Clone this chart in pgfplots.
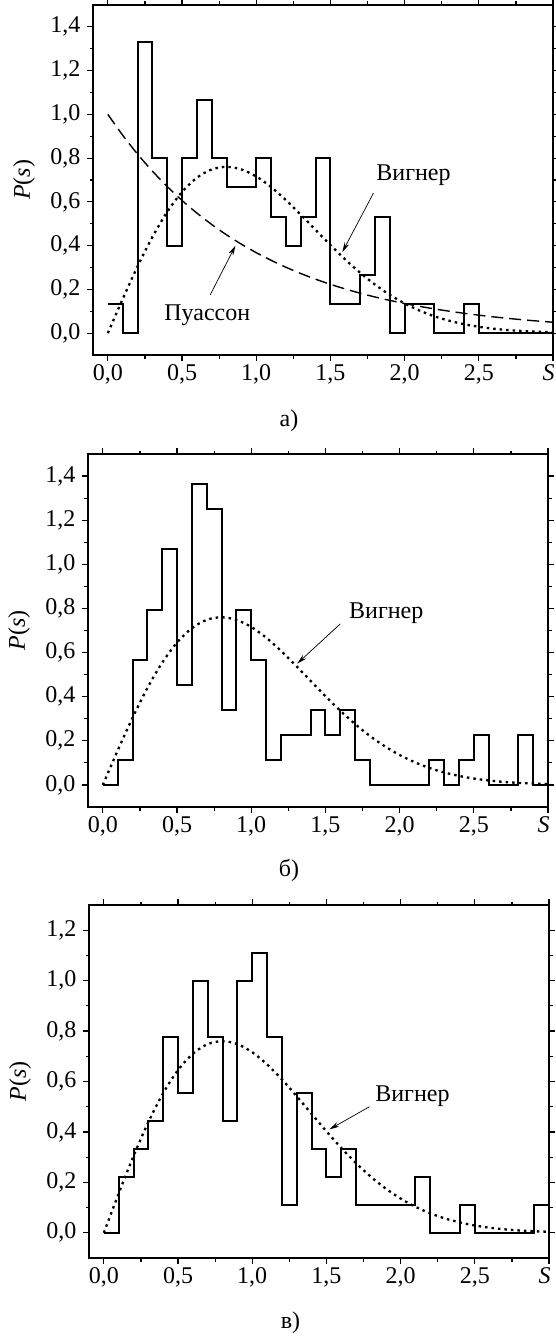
\documentclass[border=0pt]{standalone}
\usepackage{fontspec}
\setmainfont{Liberation Serif}
\usepackage{pgfplots}
\usepackage{pgfplotstable}
\pgfplotsset{compat=1.18}
\usetikzlibrary{arrows.meta}

% Wigner surmise and Poisson curves, values read at step 0.1
\pgfplotstableread{
s    w       p
0.0  0.0000  1.0000
0.1  0.1559  0.9048
0.2  0.3044  0.8187
0.3  0.4391  0.7408
0.4  0.5541  0.6703
0.5  0.6454  0.6065
0.6  0.7104  0.5488
0.7  0.7483  0.4966
0.8  0.7602  0.4493
0.9  0.7483  0.4066
1.0  0.7162  0.3679
1.1  0.6680  0.3329
1.2  0.6083  0.3012
1.3  0.5415  0.2725
1.4  0.4718  0.2466
1.5  0.4025  0.2231
1.6  0.3366  0.2019
1.7  0.2760  0.1827
1.8  0.2220  0.1653
1.9  0.1752  0.1496
2.0  0.1358  0.1353
2.1  0.1033  0.1225
2.2  0.0772  0.1108
2.3  0.0567  0.1003
2.4  0.0409  0.0907
2.5  0.0290  0.0821
2.6  0.0202  0.0743
2.7  0.0138  0.0672
2.8  0.0093  0.0608
2.9  0.0062  0.0550
3.0  0.0040  0.0498
}\curves

\tikzset{arr/.style={-{Stealth[length=10pt,width=5pt]}, line width=0.7pt}}

\pgfplotsset{
  panel/.style={
    scale only axis,
    width=460pt,
    xmin=-0.1, xmax=3.0, ymin=-0.1,
    axis line style={line width=1.2pt},
    every tick/.style={line width=1.2pt, black},
    tick align=outside,
    major tick length=6pt,
    minor tick length=3.5pt,
    xtick={0,0.5,1,1.5,2,2.5,3},
    xticklabels={{0,0},{0,5},{1,0},{1,5},{2,0},{2,5},\textit{S}\kern9pt},
    minor x tick num=1,
    minor y tick num=1,
    yticklabel style={xshift=-3pt},
    ylabel={\textit{P}(\textit{s})},
    ylabel style={at={(axis description cs:0,0.5)}, yshift=69pt, anchor=center},
    clip=false,
  },
  hist/.style={const plot, black, line width=2pt, no marks, line join=miter},
  wig/.style={black, line width=2.3pt, dash pattern=on 2.5pt off 4pt, smooth, no marks},
  poi/.style={black, line width=1.4pt, dash pattern=on 12pt off 6pt, smooth, no marks},
}

\begin{document}
\begin{tikzpicture}[font=\fontsize{24}{28}\selectfont]
\path[use as bounding box] (0,0) rectangle (555pt,-1337pt);

% а)
\begin{axis}[panel, height=350pt, ymax=1.5,
    at={(93pt,-5pt)}, anchor=north west,
    ytick={0,0.2,0.4,0.6,0.8,1.0,1.2,1.4},
    yticklabels={{0,0},{0,2},{0,4},{0,6},{0,8},{1,0},{1,2},{1,4}}]
\addplot[poi] table[x=s, y=p] {\curves};
\addplot[wig] table[x=s, y=w] {\curves};
\addplot[hist] coordinates {
  (0,0.133) (0.1,0) (0.2,1.333) (0.3,0.8) (0.4,0.4) (0.5,0.8) (0.6,1.067)
  (0.7,0.8) (0.8,0.667) (0.9,0.667) (1.0,0.8) (1.1,0.533) (1.2,0.4)
  (1.3,0.533) (1.4,0.8) (1.5,0.133) (1.6,0.133) (1.7,0.267) (1.8,0.533)
  (1.9,0) (2.0,0.133) (2.1,0.133) (2.2,0) (2.3,0) (2.4,0.133) (2.5,0) (3.0,0)
};
\node at (axis cs:2.06,0.72) {Вигнер};
\draw[arr] (axis cs:1.79,0.64) -- (axis cs:1.58,0.37);
\node at (axis cs:0.67,0.08) {Пуассон};
\draw[arr] (axis cs:0.69,0.175) -- (axis cs:0.86,0.40);
\node at (axis description cs:0.426,-0.188) {а)};
\end{axis}

% б)
\begin{axis}[panel, height=353pt, ymax=1.5,
    at={(88pt,-454pt)}, anchor=north west,
    ytick={0,0.2,0.4,0.6,0.8,1.0,1.2,1.4},
    yticklabels={{0,0},{0,2},{0,4},{0,6},{0,8},{1,0},{1,2},{1,4}}]
\addplot[wig] table[x=s, y=w] {\curves};
\addplot[hist] coordinates {
  (0,0) (0.1,0.114) (0.2,0.568) (0.3,0.795) (0.4,1.068) (0.5,0.455)
  (0.6,1.364) (0.7,1.25) (0.8,0.341) (0.9,0.795) (1.0,0.568) (1.1,0.114)
  (1.2,0.227) (1.3,0.227) (1.4,0.341) (1.5,0.227) (1.6,0.341) (1.7,0.114)
  (1.8,0) (2.2,0.114) (2.3,0) (2.4,0.114) (2.5,0.227) (2.6,0) (2.8,0.227)
  (2.9,0) (3.0,0)
};
\node at (axis cs:1.91,0.78) {Вигнер};
\draw[arr] (axis cs:1.60,0.73) -- (axis cs:1.31,0.55);
\node at (axis description cs:0.437,-0.181) {б)};
\end{axis}

% в)
\begin{axis}[panel, height=353pt, ymax=1.3,
    at={(89pt,-905pt)}, anchor=north west,
    ytick={0,0.2,0.4,0.6,0.8,1.0,1.2},
    yticklabels={{0,0},{0,2},{0,4},{0,6},{0,8},{1,0},{1,2}}]
\addplot[wig] table[x=s, y=w] {\curves};
\addplot[hist] coordinates {
  (0,0) (0.1,0.222) (0.2,0.333) (0.3,0.444) (0.4,0.778) (0.5,0.556)
  (0.6,1.0) (0.7,0.778) (0.8,0.444) (0.9,1.0) (1.0,1.111) (1.1,0.778)
  (1.2,0.111) (1.3,0.556) (1.4,0.333) (1.5,0.222) (1.6,0.333) (1.7,0.111)
  (2.1,0.222) (2.2,0) (2.4,0.111) (2.5,0) (2.9,0.111) (3.0,0.111)
};
\node at (axis cs:2.08,0.54) {Вигнер};
\draw[arr] (axis cs:1.79,0.50) -- (axis cs:1.52,0.41);
\node at (axis description cs:0.438,-0.184) {в)};
\end{axis}
\end{tikzpicture}
\end{document}
